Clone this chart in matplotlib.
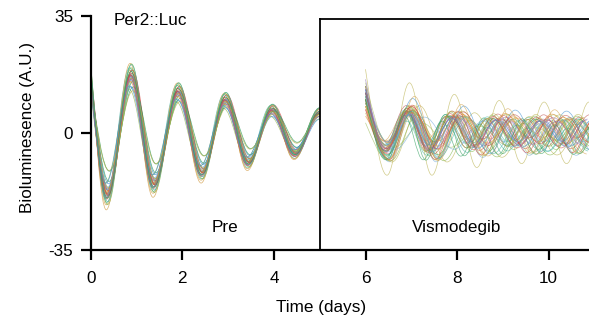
import matplotlib
matplotlib.use("Agg")
import matplotlib.pyplot as plt
from matplotlib.path import Path
from matplotlib.patches import PathPatch

# --- Pre segment: mean extrema (days, A.U.)
pre_times = [0.0, 0.36, 0.88, 1.38, 1.91, 2.43, 2.94, 3.44, 3.96, 4.46, 5.0]
pre_mean = [16.8, -18.0, 17.0, -15.0, 12.3, -11.6, 9.9, -8.6, 6.9, -6.0, 6.0]

# per-trace spread around the mean (gain, time lag in days, baseline)
pre_gain = [1.00, 0.95, 1.05, 0.90, 1.10, 0.98, 1.02, 0.85,
            1.15, 0.93, 1.07, 0.80, 1.20, 0.97, 1.03, 0.88,
            1.12, 0.99, 1.01, 0.72, 1.25, 0.94, 1.06, 0.91,
            1.09, 0.96, 1.04, 0.83, 1.17, 0.68, 1.00, 1.08]
pre_lag = [0.00, 0.02, -0.02, 0.03, -0.01, 0.01, -0.03, 0.04,
           -0.02, 0.00, 0.02, -0.04, 0.01, -0.01, 0.03, 0.00,
           -0.03, 0.02, 0.00, 0.05, -0.02, 0.01, -0.01, 0.03,
           0.00, -0.02, 0.02, -0.03, 0.01, 0.04, -0.01, 0.00]
pre_base = [0.0, 0.5, -0.5, 1.0, -1.0, 0.3, -0.3, 0.8,
            -0.8, 0.0, 0.6, -0.6, 0.2, -0.2, 1.2, -1.2,
            0.4, -0.4, 0.0, 1.5, -0.5, 0.7, -0.7, 0.0,
            0.9, -0.9, 0.1, -0.1, 0.5, 1.0, -1.0, 0.0]

# --- Vismodegib segment (starts at day 6)
post_t0 = 6.0
post_end = 11.2
post_amp = [5.5, 6.5, 5.5, 5.0, 4.5, 4.2, 4.0, 4.0, 4.0, 4.0, 4.0, 4.0, 4.0]
post_start = [10, 12, 8, 14, 9, 11, 13, 7, 15, 10, 12,
              9, 19, 11, 6, 13, 10, 8, 12, 14, 9, 11,
              5, 10, 13, 12, 8, 16, 10, 11, 9, 12, 3,
              14, 10, 7, 12, 11, 9, 13, 10, 8, 11, 12]
post_first = [0.46, 0.42, 0.50, 0.44, 0.48, 0.40, 0.52, 0.45, 0.47, 0.55, 0.43,
              0.49, 0.47, 0.41, 0.58, 0.46, 0.44, 0.51, 0.45, 0.39, 0.62, 0.48,
              0.50, 0.43, 0.47, 0.46, 0.53, 0.42, 0.48, 0.45, 0.65, 0.44, 0.49,
              0.41, 0.47, 0.52, 0.45, 0.43, 0.50, 0.46, 0.44, 0.56, 0.48, 0.45]
post_half = [0.50, 0.47, 0.53, 0.49, 0.55, 0.46, 0.51, 0.44, 0.52, 0.58, 0.48,
             0.50, 0.49, 0.45, 0.60, 0.52, 0.47, 0.54, 0.43, 0.50, 0.62, 0.46,
             0.51, 0.48, 0.56, 0.44, 0.53, 0.49, 0.42, 0.57, 0.64, 0.47, 0.52,
             0.45, 0.55, 0.50, 0.48, 0.59, 0.46, 0.53, 0.41, 0.51, 0.49, 0.56]
post_gain = [1.0, 0.8, 1.2, 0.9, 1.1, 0.7, 1.3, 1.0, 0.85, 1.15, 0.95,
             1.05, 2.3, 0.9, 1.4, 0.75, 1.0, 1.2, 0.8, 1.1, 0.6, 1.25,
             0.9, 1.0, 1.5, 0.85, 1.1, 0.95, 1.3, 0.7, 0.8, 1.05, 1.2,
             1.0, 0.9, 1.35, 0.75, 1.15, 1.0, 0.85, 1.1, 1.6, 0.95, 1.05]
post_base = [0.0, 1.0, -1.0, 0.5, -0.5, 1.5, -1.5, 0.0, 2.0, -2.0, 0.5,
             -0.5, 0.0, 1.0, -1.0, 1.5, 0.0, -1.5, 0.5, 1.0, -1.0, 0.0,
             2.0, -0.5, 0.5, -2.0, 1.0, 0.0, -1.0, 1.5, -0.5, 0.5, -1.5,
             0.0, 1.0, -0.5, 0.5, -1.0, 1.5, 0.0, -2.0, 0.5, -0.5, 1.0]

colors = ["#7cb342", "#e6862f", "#d64541", "#3f8fd2", "#46b5a8", "#b8b04a",
          "#8e6bb8", "#2e9d5b", "#d4a04c", "#6fa8dc", "#c0504d", "#9bbb59"]
outlier_color = "#b8b04a"

K = 0.3642  # bezier handle for a half cosine between two extrema


def wave_path(points):
    verts = [points[0]]
    codes = [Path.MOVETO]
    for j in range(1, len(points)):
        (t0, y0), (t1, y1) = points[j - 1], points[j]
        dt = t1 - t0
        if j == 1:
            c1 = (t0 + dt / 3, y0 + (y1 - y0) * 0.45)
        else:
            c1 = (t0 + K * dt, y0)
        c2 = (t1 - K * dt, y1)
        verts += [c1, c2, (t1, y1)]
        codes += [Path.CURVE4] * 3
    return Path(verts, codes)


plt.rcParams["font.family"] = ["Liberation Sans", "DejaVu Sans"]
plt.rcParams["axes.unicode_minus"] = False
FS = 12.3

fig = plt.figure(figsize=(5.89, 3.22), dpi=100)
ax = fig.add_axes([0.154, 0.2236, 0.846, 0.7276])

for i in range(len(pre_gain)):
    pts = []
    last = len(pre_times) - 1
    for k, (t, m) in enumerate(zip(pre_times, pre_mean)):
        lag = 0 if k in (0, last) else pre_lag[i]
        pts.append((t + lag, m * pre_gain[i] + pre_base[i]))
    ax.add_patch(PathPatch(wave_path(pts), fill=False, lw=0.55, alpha=0.75,
                           edgecolor=colors[i % len(colors)]))

for i in range(len(post_start)):
    pts = [(post_t0, post_start[i])]
    k = 0
    t = post_t0 + post_first[i]
    while t < post_end and k < len(post_amp):
        sign = -1 if k % 2 == 0 else 1
        pts.append((t, post_base[i] + sign * post_amp[k] * post_gain[i]))
        k += 1
        t = post_t0 + post_first[i] + k * post_half[i]
    c = outlier_color if post_gain[i] > 2 else colors[(i + 3) % len(colors)]
    ax.add_patch(PathPatch(wave_path(pts), fill=False, lw=0.5, alpha=0.65,
                           edgecolor=c))

# box around the treatment period
ax.plot([5, 5], [-35, 34], color="black", lw=1.3, clip_on=False)
ax.plot([5, 10.88], [34, 34], color="black", lw=1.3, clip_on=False)

ax.set_xlim(0, 10.88)
ax.set_ylim(-35, 35)
ax.set_xticks([0, 2, 4, 6, 8, 10])
ax.set_yticks([-35, 0, 35])
ax.spines["top"].set_visible(False)
ax.spines["right"].set_visible(False)
for s in ("left", "bottom"):
    ax.spines[s].set_linewidth(1.6)
ax.tick_params(width=1.6, length=7.5, labelsize=FS)
ax.tick_params(axis="x", pad=7.5)
ax.tick_params(axis="y", pad=5)

ax.text(0.5, 33.6, "Per2::Luc", fontsize=FS, va="center", ha="left")
ax.text(2.93, -28.4, "Pre", fontsize=FS, va="center", ha="center")
ax.text(7.98, -28.4, "Vismodegib", fontsize=FS, va="center", ha="center")

ax.set_xlabel("Time (days)", fontsize=FS)
ax.set_ylabel("Bioluminesence (A.U.)", fontsize=FS)
ax.xaxis.set_label_coords(0.462, -0.215)
ax.yaxis.set_label_coords(-0.112, 0.525)

fig.savefig("out.png", dpi=100)
